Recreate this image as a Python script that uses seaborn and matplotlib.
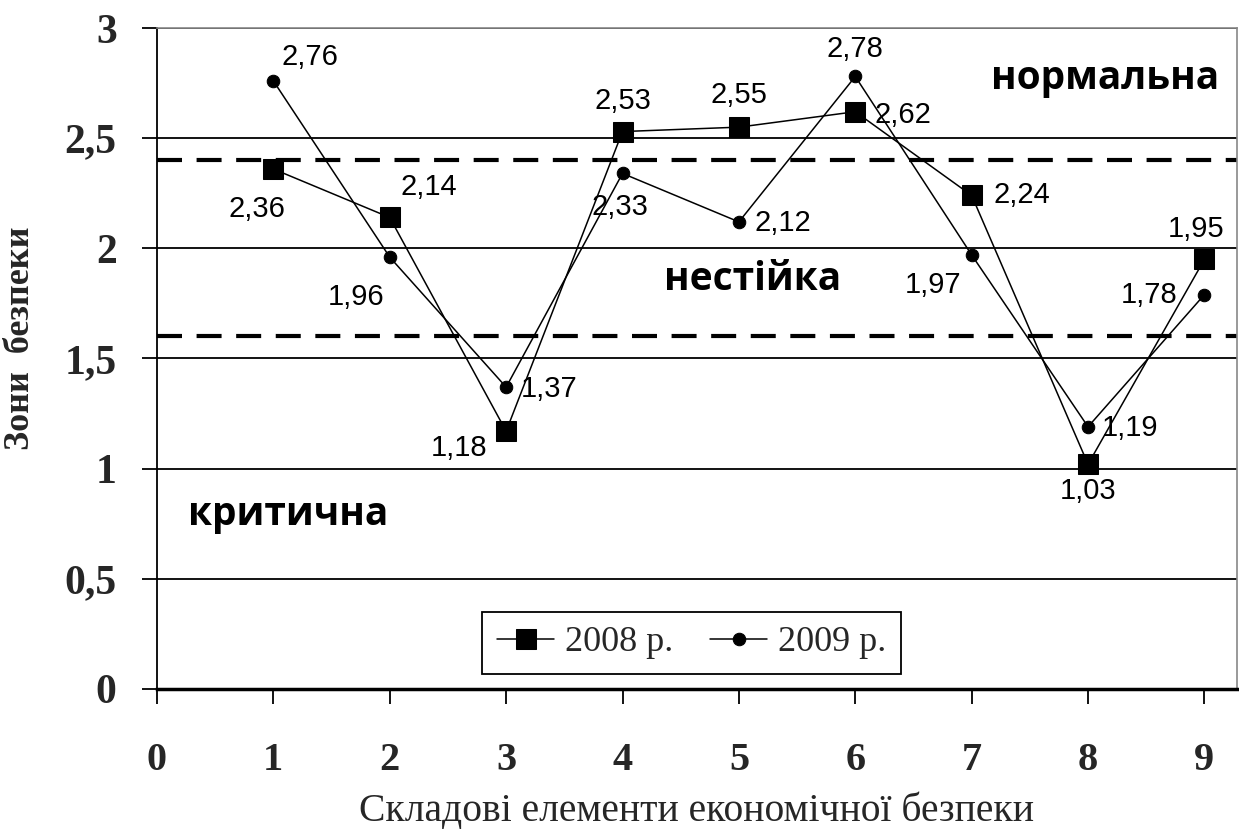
import numpy as np
import pandas as pd
import matplotlib
matplotlib.use('Agg')
import matplotlib.pyplot as plt
import seaborn as sns

elements = [1, 2, 3, 4, 5, 6, 7, 8, 9]
val_2008 = [2.36, 2.14, 1.17, 2.53, 2.55, 2.62, 2.24, 1.02, 1.95]
lab_2008 = ['2,36', '2,14', '1,18', '2,53', '2,55', '2,62', '2,24', '1,03', '1,95']
val_2009 = [2.76, 1.96, 1.37, 2.34, 2.12, 2.78, 1.97, 1.19, 1.79]
lab_2009 = ['2,76', '1,96', '1,37', '2,33', '2,12', '2,78', '1,97', '1,19', '1,78']
bounds = [1.6, 2.4]
yticks = [0, 0.5, 1, 1.5, 2, 2.5, 3]
ytick_labels = ['0', '0,5', '1', '1,5', '2', '2,5', '3']

# label offsets in points (dx, dy)
off_2008 = [(-12, -29), (28, 22), (-34, -12), (0, 22), (0, 23), (34, -2), (36, 0), (0, -19), (-6, 22)]
off_2009 = [(26, 17), (-24, -29), (31, -1), (-2, -24), (32, -1), (0, 20), (-28, -22), (30, -1), (-40, 0)]

sns.set_style('white')
plt.rcParams['font.family'] = ['Liberation Serif', 'DejaVu Serif']

fig = plt.figure(figsize=(12.39, 8.31), dpi=100)
ax = fig.add_axes([0.1267, 0.1709, 0.8717, 0.7954])

for yv in yticks[1:]:
    ax.axhline(yv, color='black', lw=1.3, zorder=1)
for b in bounds:
    ax.axhline(b, color='black', lw=3, ls=(0, (6, 3.5)), zorder=1)

sns.lineplot(x=elements, y=val_2008, marker='s', markersize=14, color='black',
             markeredgecolor='black', lw=1.1, label='2008 р.', ax=ax, zorder=3)
sns.lineplot(x=elements, y=val_2009, marker='o', markersize=9, color='black',
             markeredgecolor='black', lw=1.1, label='2009 р.', ax=ax, zorder=3)

for xs, ys, labs, offs in [(elements, val_2008, lab_2008, off_2008),
                           (elements, val_2009, lab_2009, off_2009)]:
    for x, y, t, (dx, dy) in zip(xs, ys, labs, offs):
        ax.annotate(t, (x, y), xytext=(dx, dy), textcoords='offset points',
                    ha='center', va='center', fontsize=21,
                    family='Liberation Sans', color='black')

zone_font = dict(family='Open Sans', fontweight='bold', fontsize=28, color='black')
ax.text(8.15, 2.77, 'нормальна', ha='center', va='center', **zone_font)
ax.text(5.12, 1.86, 'нестійка', ha='center', va='center', **zone_font)
ax.text(1.13, 0.79, 'критична', ha='center', va='center', **zone_font)

ax.set_xlim(0, 9.28)
ax.set_ylim(0, 3)
ax.set_xticks(range(10))
ax.set_xticklabels([str(i) for i in range(10)], fontsize=29, fontweight='bold')
ax.set_yticks(yticks)
ax.set_yticklabels(ytick_labels, fontsize=30, fontweight='bold')
ax.tick_params(axis='both', direction='out', length=11, width=1.3, color='black',
               bottom=True, left=True)
ax.tick_params(axis='x', pad=27)
ax.tick_params(axis='y', pad=18)

for side in ['top', 'right']:
    ax.spines[side].set_color('#888888')
    ax.spines[side].set_linewidth(1.2)
ax.spines['left'].set_color('black')
ax.spines['left'].set_linewidth(1.3)
ax.spines['bottom'].set_color('black')
ax.spines['bottom'].set_linewidth(2.5)

ax.set_xlabel('Складові елементи економічної безпеки', fontsize=28.5, labelpad=10)
ax.set_ylabel('Зони  безпеки', fontsize=26, fontweight='bold')
ax.yaxis.set_label_coords(-0.111, 0.53)

leg = ax.legend(loc='center', bbox_to_anchor=(0.495, 0.07), ncol=2, fontsize=26,
                frameon=True, fancybox=False, edgecolor='black', framealpha=1,
                handlelength=1.6, columnspacing=1.0, handletextpad=0.3,
                borderpad=0.4)
leg.get_frame().set_linewidth(1.3)

fig.savefig('out.png', dpi=100, facecolor='white')
